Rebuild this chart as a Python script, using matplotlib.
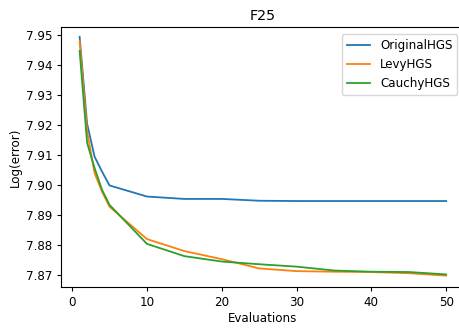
import matplotlib
matplotlib.use("Agg")
import matplotlib.pyplot as plt

evaluations = [1, 2, 3, 4, 5, 10, 15, 20, 25, 30, 35, 40, 45, 50]
original_hgs = [7.9495, 7.9205, 7.9095, 7.9045, 7.8999, 7.8962, 7.8954, 7.8954, 7.8948,
                7.8947, 7.8947, 7.8947, 7.8947, 7.8947]
levy_hgs = [7.9482, 7.9180, 7.9040, 7.8978, 7.8928, 7.8820, 7.8780, 7.8753, 7.8722,
            7.8713, 7.8711, 7.8710, 7.8706, 7.8698]
cauchy_hgs = [7.9448, 7.9141, 7.9057, 7.8984, 7.8934, 7.8804, 7.8763, 7.8745, 7.8736,
              7.8728, 7.8715, 7.8711, 7.8710, 7.8702]

plt.rcParams['font.size'] = 8.6
plt.rcParams['lines.linewidth'] = 1.3
plt.rcParams['axes.linewidth'] = 0.8
fig = plt.figure(figsize=(4.6, 3.29), dpi=100)
ax = fig.add_axes([61.3/460, (329-287.3)/329, (464.5-61.3)/460, (287.3-27)/329])
ax.plot(evaluations, original_hgs, label="OriginalHGS")
ax.plot(evaluations, levy_hgs, label="LevyHGS")
ax.plot(evaluations, cauchy_hgs, label="CauchyHGS")
ax.set_xlim(-1.45, 52.45)
ax.set_ylim(7.8659, 7.9528)
ax.set_yticks([7.87, 7.88, 7.89, 7.90, 7.91, 7.92, 7.93, 7.94, 7.95])
ax.set_xticks([0, 10, 20, 30, 40, 50])
ax.tick_params(length=3)
ax.set_title("F25", fontsize=10.3, pad=5)
ax.set_xlabel("Evaluations", labelpad=2)
ax.set_ylabel("Log(error)", labelpad=3)
ax.legend(loc="upper right", borderaxespad=0.6)
fig.savefig("out.png", dpi=100)
